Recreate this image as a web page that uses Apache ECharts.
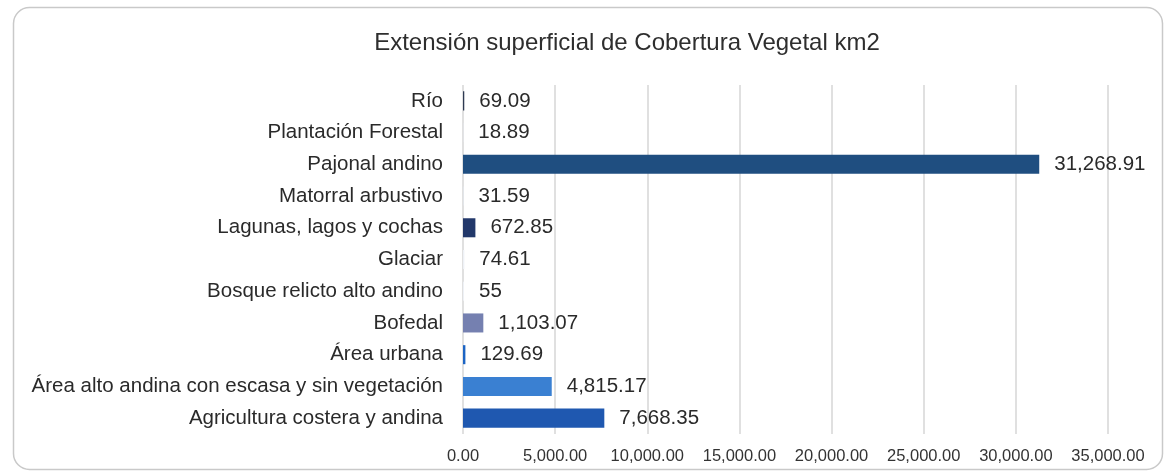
<!DOCTYPE html>
<html>
<head>
<meta charset="utf-8">
<script src="https://cdn.jsdelivr.net/npm/echarts@6/dist/echarts.min.js"></script>
<style>
html,body{margin:0;padding:0;background:#fff;}
#main{width:1165px;height:472px;}
</style>
</head>
<body>
<div id="main"></div>
<script>
const titleText = 'Extensión superficial de Cobertura Vegetal km2';
const categories = ['Río','Plantación Forestal','Pajonal andino','Matorral arbustivo','Lagunas, lagos y cochas','Glaciar','Bosque relicto alto andino','Bofedal','Área urbana','Área alto andina con escasa y sin vegetación','Agricultura costera y andina'];
const values = [69.09, 18.89, 31268.91, 31.59, 672.85, 74.61, 55, 1103.07, 129.69, 4815.17, 7668.35];
const barColors = ['#2e3a52','#e4e8ef','#1f4e80','#e4e8ef','#22386a','#eef1f6','#eef1f6','#7580b0','#1c64c4','#3a80d2','#1f58b0'];
const xMin = 0, xMax = 35000, xStep = 5000;

const fmtVal = v => v.toLocaleString('en-US',{maximumFractionDigits:2});
const fmtTick = v => v.toLocaleString('en-US',{minimumFractionDigits:2,maximumFractionDigits:2});

const chart = echarts.init(document.getElementById('main'));
const FONT = 'Liberation Sans';
chart.setOption({
  animation:false,
  textStyle:{fontFamily:FONT},
  graphic:[{
    type:'rect', left:11, top:5, silent:true,
    shape:{width:1149, height:462, r:16},
    style:{fill:'none', stroke:'#c9c9c9', lineWidth:1.5}
  }],
  title:{
    text:titleText, left:622, top:26, textAlign:'center',
    textStyle:{fontFamily:FONT, fontSize:24, fontWeight:'normal', color:'#2e2e2e'}
  },
  grid:{left:463, right:57, top:85, bottom:38, containLabel:false},
  xAxis:{
    type:'value', min:xMin, max:xMax, interval:xStep,
    axisLine:{show:false}, axisTick:{show:false},
    axisLabel:{formatter:fmtTick, fontFamily:FONT, fontSize:16.5, color:'#333', margin:14},
    splitLine:{show:true, lineStyle:{color:'#d6d6d6', width:1.5}}
  },
  yAxis:{
    type:'category', data:categories, inverse:true,
    axisLine:{show:false}, axisTick:{show:false},
    axisLabel:{fontFamily:FONT, fontSize:20.5, color:'#2a2a2a', margin:20}
  },
  series:[{
    type:'bar', barCategoryGap:'40%',
    data:values.map((v,i)=>({value:v, itemStyle:{color:barColors[i]}})),
    label:{show:true, position:'right', distance:15, formatter:p=>fmtVal(p.value),
      fontFamily:FONT, fontSize:20.5, color:'#2a2a2a'}
  }]
});
</script>
</body>
</html>
